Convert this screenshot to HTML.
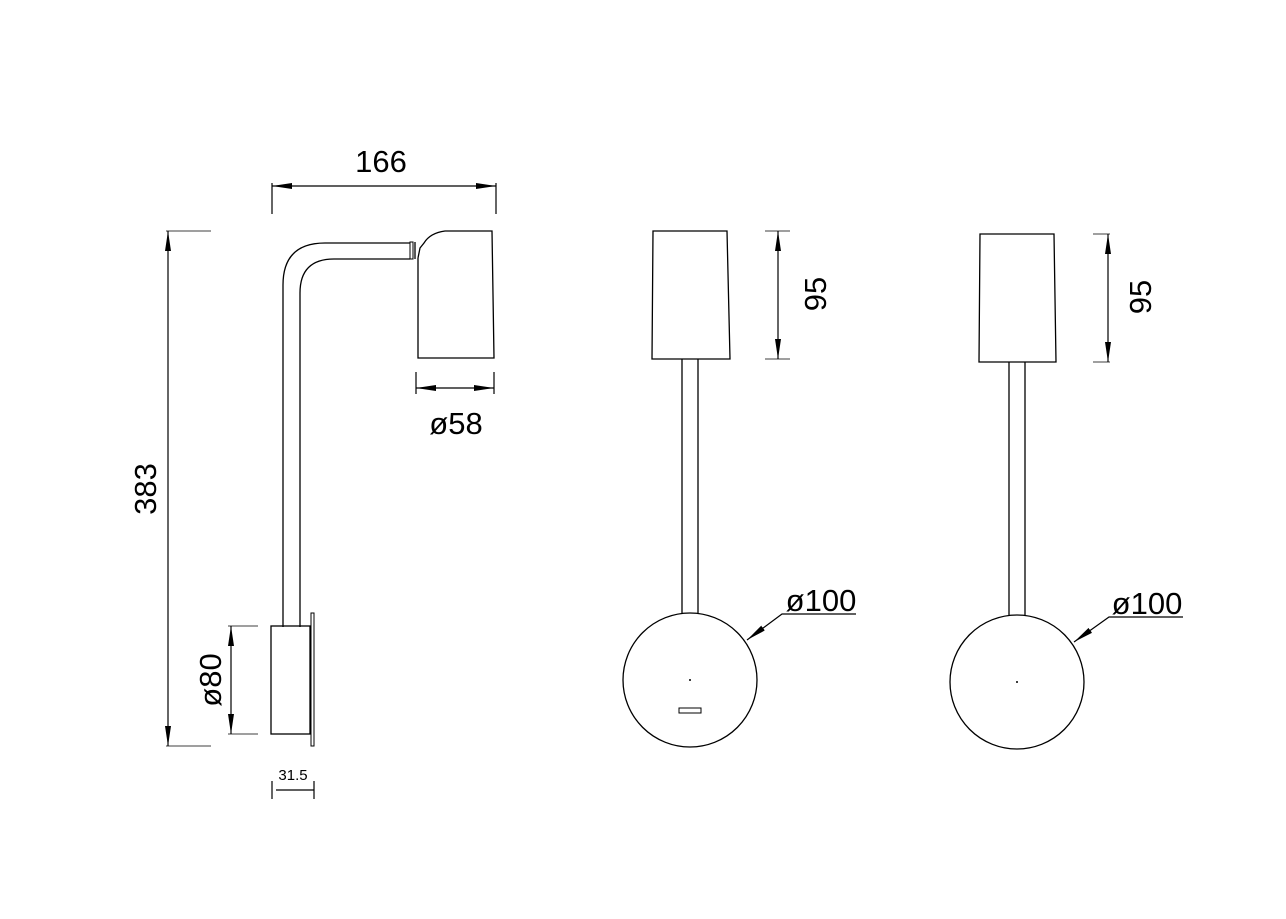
<!DOCTYPE html>
<html><head><meta charset="utf-8"><style>
html,body{margin:0;padding:0;background:#fff;}
svg{display:block;}
text{font-family:"Liberation Sans",Arial,sans-serif;fill:#000;}
</style></head><body>
<svg width="1286" height="919" viewBox="0 0 1286 919" xmlns="http://www.w3.org/2000/svg">
<defs>
<marker id="a" viewBox="0 0 20 6" refX="20" refY="3" markerWidth="20" markerHeight="6" markerUnits="userSpaceOnUse" orient="auto-start-reverse">
<path d="M20,3 L0,0 L0,6 Z" fill="#000"/>
</marker>
</defs>
<g fill="none" stroke="#000" stroke-width="1.3">
<path d="M283,627 V285 Q283,243 325,243 H410"/>
<path d="M300,627 V293 Q300,259 334,259 H410"/>
<rect x="410" y="242" width="3" height="17" stroke-width="1"/>
<line x1="415" y1="242" x2="415" y2="259"/>
<path d="M418,258 V358 H494 L492,231 H445 Q430,233 424,243 L420,248 L418,258"/>
<rect x="271" y="626" width="39" height="108"/>
<rect x="311" y="613" width="3" height="133" stroke-width="1"/>
<path d="M653,231 H727 L730,359 H652 Z"/>
<line x1="682" y1="359" x2="682" y2="613"/>
<line x1="698" y1="359" x2="698" y2="613"/>
<circle cx="690" cy="680" r="67"/>
<rect x="679" y="708" width="22" height="5" stroke-width="1"/>
<path d="M980,234 H1054 L1056,362 H979 Z"/>
<line x1="1009" y1="362" x2="1009" y2="615"/>
<line x1="1025" y1="362" x2="1025" y2="615"/>
<circle cx="1017" cy="682" r="67"/>
</g>
<circle cx="690" cy="680" r="1" fill="#000"/>
<circle cx="1017" cy="682" r="1" fill="#000"/>
<g stroke="#000" stroke-width="1.2" fill="none">
<line x1="272" y1="183" x2="272" y2="214"/>
<line x1="496" y1="183" x2="496" y2="214"/>
<line x1="272" y1="186" x2="496" y2="186" marker-start="url(#a)" marker-end="url(#a)"/>
<line x1="166" y1="231" x2="211" y2="231" stroke="#666"/>
<line x1="166" y1="746" x2="211" y2="746" stroke="#666"/>
<line x1="168" y1="231" x2="168" y2="746" marker-start="url(#a)" marker-end="url(#a)"/>
<line x1="416" y1="372" x2="416" y2="394"/>
<line x1="494" y1="372" x2="494" y2="394"/>
<line x1="416" y1="388" x2="494" y2="388" marker-start="url(#a)" marker-end="url(#a)"/>
<line x1="228" y1="626" x2="258" y2="626" stroke="#666"/>
<line x1="228" y1="734" x2="258" y2="734" stroke="#666"/>
<line x1="231" y1="626" x2="231" y2="734" marker-start="url(#a)" marker-end="url(#a)"/>
<line x1="272" y1="781" x2="272" y2="799"/>
<line x1="314" y1="781" x2="314" y2="799"/>
<line x1="276" y1="790" x2="314" y2="790"/>
<line x1="765" y1="231" x2="790" y2="231" stroke="#666"/>
<line x1="765" y1="359" x2="790" y2="359" stroke="#666"/>
<line x1="778" y1="231" x2="778" y2="359" marker-start="url(#a)" marker-end="url(#a)"/>
<line x1="1093" y1="234" x2="1110" y2="234" stroke="#666"/>
<line x1="1093" y1="362" x2="1110" y2="362" stroke="#666"/>
<line x1="1108" y1="234" x2="1108" y2="362" marker-start="url(#a)" marker-end="url(#a)"/>
<polyline points="747,640 782,614 856,614" marker-start="url(#a)"/>
<polyline points="1074,642 1109,617 1183,617" marker-start="url(#a)"/>
</g>
<text x="381" y="172" font-size="31" text-anchor="middle">166</text>
<text x="456" y="434" font-size="31" text-anchor="middle">ø58</text>
<text transform="translate(156,489) rotate(-90)" font-size="31" text-anchor="middle">383</text>
<text transform="translate(221,680) rotate(-90)" font-size="31" text-anchor="middle">ø80</text>
<text x="293" y="780" font-size="15" text-anchor="middle">31.5</text>
<text transform="translate(826,294) rotate(-90)" font-size="31" text-anchor="middle">95</text>
<text transform="translate(1151,297) rotate(-90)" font-size="31" text-anchor="middle">95</text>
<text x="821" y="611" font-size="31" text-anchor="middle">ø100</text>
<text x="1147" y="614" font-size="31" text-anchor="middle">ø100</text>
</svg>
</body></html>
